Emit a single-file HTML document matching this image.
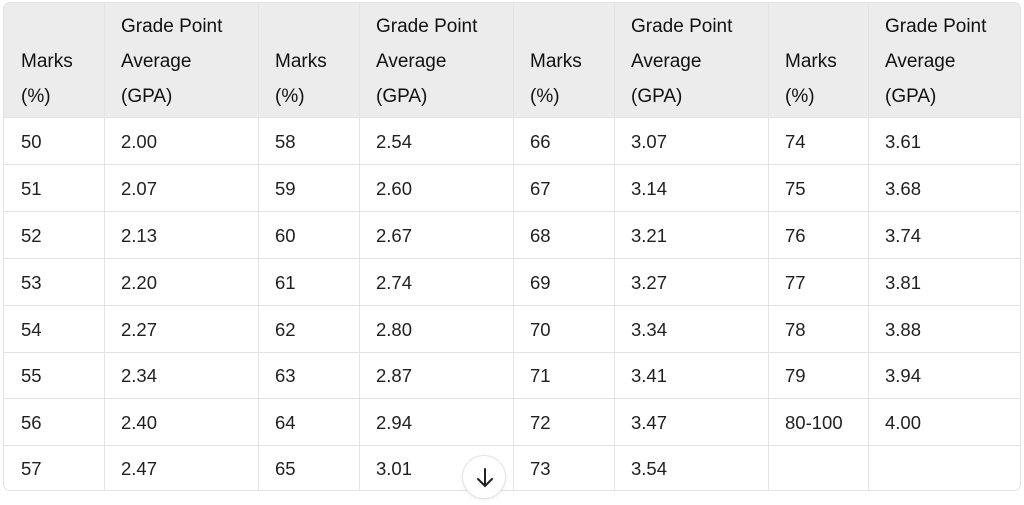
<!DOCTYPE html>
<html><head><meta charset="utf-8"><style>
body{margin:0;background:#fff;width:1024px;height:499px;overflow:hidden;font-family:"Liberation Sans","DejaVu Sans",sans-serif;color:#222;}
.t{position:absolute;left:3px;top:2px;width:1018px;height:489px;border:1px solid #e3e3e3;border-radius:7px;overflow:hidden;box-sizing:border-box;}
.h{position:absolute;left:0;top:0;width:100%;height:114px;background:#ececec;}
.v{position:absolute;top:0;bottom:0;width:1px;background:#e3e3e3;}
.r{position:absolute;left:0;right:0;height:1px;background:#e3e3e3;}
.c{position:absolute;font-size:18.5px;line-height:24px;white-space:nowrap;color:#1f1f1f;}
.hd{position:absolute;font-size:19px;line-height:35px;white-space:nowrap;color:#111;}
.btn{position:absolute;left:462px;top:455px;width:44px;height:44px;border-radius:50%;background:#fff;border:1px solid #e3e3e3;box-sizing:border-box;box-shadow:0 1px 3px rgba(0,0,0,.08);}
</style></head><body>
<div class="t" id="t"><div class="h"></div></div>
<div class="btn"><svg width="44" height="44" viewBox="0 0 44 44"><path d="M22 13v17M15 23l7 7 7-7" stroke="#222" stroke-width="2" fill="none" stroke-linecap="round"/></svg></div>
<script>
var t=document.getElementById('t');
var xs=[0,100,254,355,509,610,764,864];
xs.slice(1).forEach(function(x){var d=document.createElement('div');d.className='v';d.style.left=x+'px';t.appendChild(d);});
var ys=[114,161,208,255,302,349,395,442];
ys.forEach(function(y){var d=document.createElement('div');d.className='r';d.style.top=y+'px';t.appendChild(d);});
for(var g=0;g<4;g++){
 var a=document.createElement('div');a.className='hd';a.style.left=(xs[2*g]+17)+'px';a.style.top='41px';a.innerHTML='Marks<br>(%)';t.appendChild(a);
 var b=document.createElement('div');b.className='hd';b.style.left=(xs[2*g+1]+17)+'px';b.style.top='6px';b.innerHTML='Grade Point<br>Average<br>(GPA)';t.appendChild(b);
}
var data=[["50","2.00","58","2.54","66","3.07","74","3.61"],["51","2.07","59","2.60","67","3.14","75","3.68"],["52","2.13","60","2.67","68","3.21","76","3.74"],["53","2.20","61","2.74","69","3.27","77","3.81"],["54","2.27","62","2.80","70","3.34","78","3.88"],["55","2.34","63","2.87","71","3.41","79","3.94"],["56","2.40","64","2.94","72","3.47","80-100","4.00"],["57","2.47","65","3.01","73","3.54","",""]];
data.forEach(function(row,i){var top=ys[i]+ (i<7?(ys[i+1]-ys[i]):46)/2-12+1;
 row.forEach(function(v,j){var d=document.createElement('div');d.className='c';d.style.left=(xs[j]+17)+'px';d.style.top=top+'px';d.textContent=v;t.appendChild(d);});});
</script>
</body></html>
